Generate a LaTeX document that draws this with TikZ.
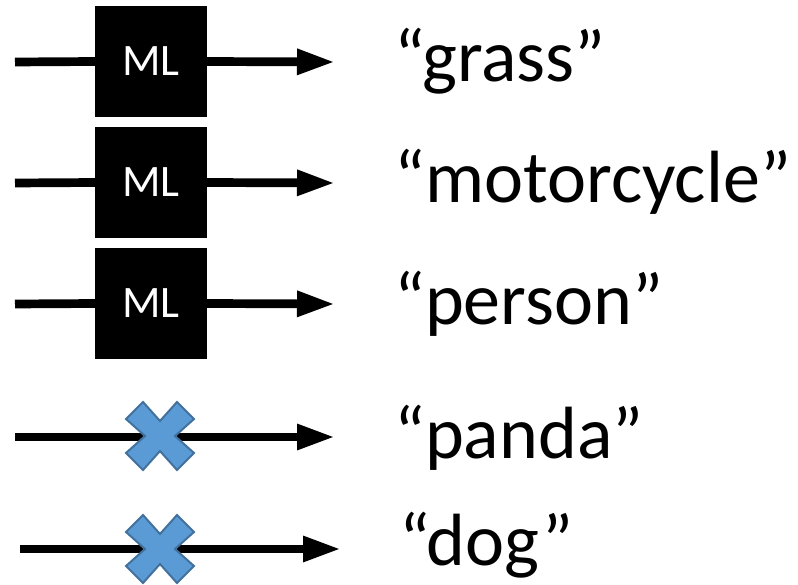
\documentclass[tikz,border=0pt]{standalone}
\usepackage{fontspec}
\setmainfont{Carlito}
\usetikzlibrary{arrows.meta}
\definecolor{xfill}{HTML}{5B9BD5}
\definecolor{xdraw}{HTML}{41719C}
\tikzset{
  mlbox/.style={fill=black, draw=none, minimum width=112pt, minimum height=111pt, inner sep=0pt, text=white, font=\fontsize{45}{50}\selectfont},
  flow/.style={line width=8.7pt, -{Triangle[length=38pt,width=24pt]}},
  plainline/.style={line width=8.7pt},
  lbl/.style={anchor=base west, inner sep=0pt, font=\fontsize{74}{80}\selectfont},
  xmark/.style={fill=xfill, draw=xdraw, line width=2pt, line join=miter},
  dot/.style={inner sep=0pt, minimum size=0pt}
}
\begin{document}
\begin{tikzpicture}[x=1pt, y=-1pt]
\useasboundingbox (0,0) rectangle (798,585);
% row 1
\coordinate (s1) at (15,62);
\node[mlbox] (m1) at (151,61.5) {ML};
\coordinate (e1) at (335,62);
\draw[plainline] (s1) -- (m1.west);
\draw[flow] (m1.east) -- (e1);
\node[lbl] (t1) at (394,82) {“grass”};
% row 2
\coordinate (s2) at (15,183);
\node[mlbox] (m2) at (151,182.5) {ML};
\coordinate (e2) at (335,183);
\draw[plainline] (s2) -- (m2.west);
\draw[flow] (m2.east) -- (e2);
\node[lbl] (t2) at (394,203) {“motorcycle”};
% row 3
\coordinate (s3) at (15,304);
\node[mlbox] (m3) at (151,303.5) {ML};
\coordinate (e3) at (335,304);
\draw[plainline] (s3) -- (m3.west);
\draw[flow] (m3.east) -- (e3);
\node[lbl] (t3) at (394,325) {“person”};
% row 4
\coordinate (s4) at (15,437);
\coordinate (e4) at (335,437);
\draw[flow] (s4) -- (e4);
\node[dot] (x4) at (160,436) {};
\draw[xmark, shift={(x4.center)}] (0,-15) -- (17,-34) -- (34,-17) -- (15,0) -- (34,17) -- (17,34) -- (0,15) -- (-17,34) -- (-34,17) -- (-15,0) -- (-34,-17) -- (-17,-34) -- cycle;
\node[lbl] (t4) at (394,458) {“panda”};
% row 5
\coordinate (s5) at (20,549);
\coordinate (e5) at (341,549);
\draw[flow] (s5) -- (e5);
\node[dot] (x5) at (160,549) {};
\draw[xmark, shift={(x5.center)}] (0,-15) -- (17,-34) -- (34,-17) -- (15,0) -- (34,17) -- (17,34) -- (0,15) -- (-17,34) -- (-34,17) -- (-15,0) -- (-34,-17) -- (-17,-34) -- cycle;
\node[lbl] (t5) at (399,565) {“dog”};
\end{tikzpicture}
\end{document}
